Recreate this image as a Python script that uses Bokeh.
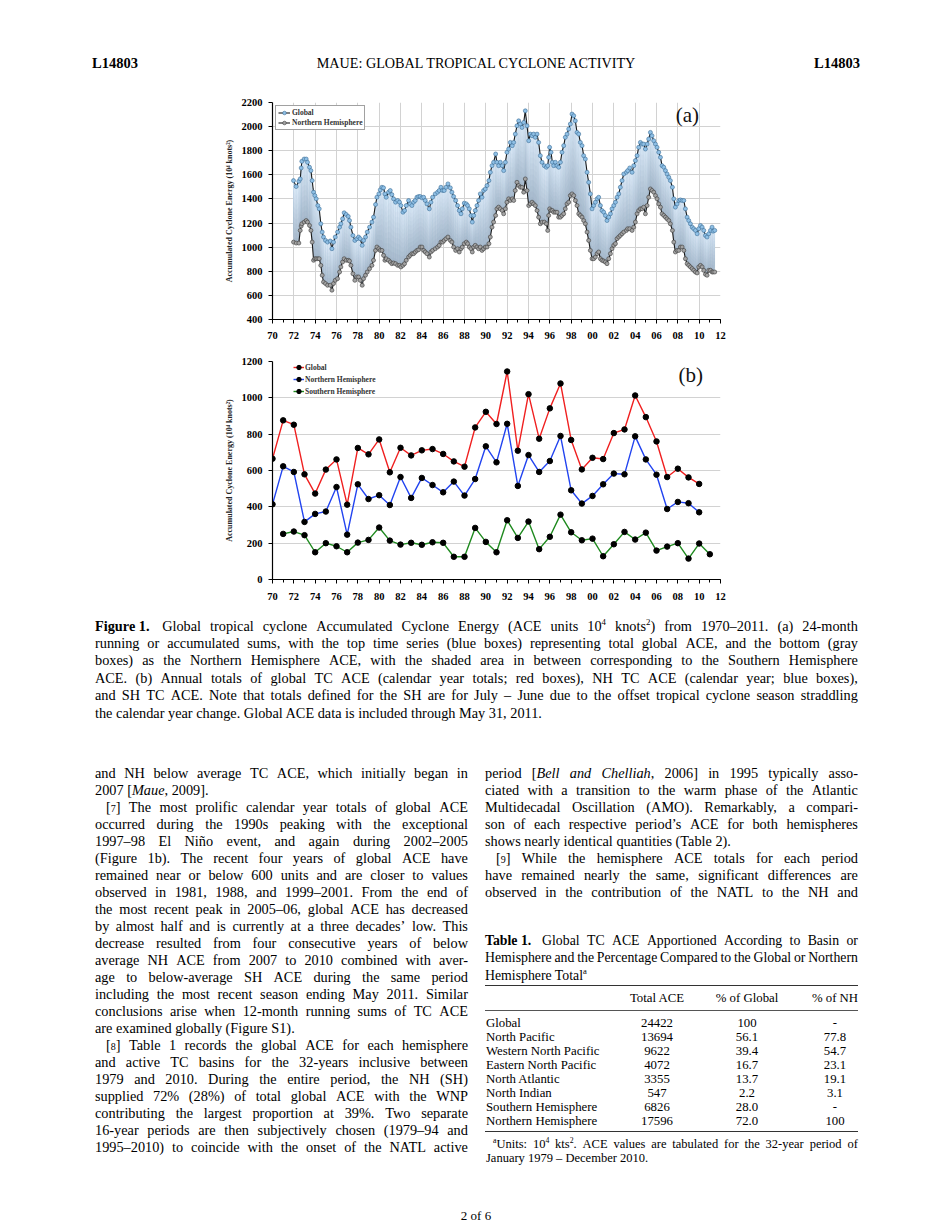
from bokeh.plotting import figure
from bokeh.models import Range1d, FixedTicker, Div, Legend, LegendItem, Label
from bokeh.layouts import column
from bokeh.embed import file_html
from bokeh.resources import INLINE
import numpy as np

# ---------------- data: (a) 24-month running sums ----------------
years_a = [1971.97,1972.22,1972.47,1972.60,1972.69,1972.75,1972.97,1973.16,1973.28,1973.47,
 1973.60,1973.72,1973.85,1973.97,1974.10,1974.25,1974.38,1974.53,1974.66,1974.78,
 1974.97,1975.16,1975.41,1975.57,1975.72,1975.88,1976.10,1976.29,1976.41,1976.57,
 1976.72,1976.91,1977.10,1977.22,1977.35,1977.54,1977.72,1977.91,1978.07,1978.22,
 1978.41,1978.54,1978.72,1978.88,1979.10,1979.32,1979.47,1979.66,1979.79,1979.97,
 1980.10,1980.26,1980.41,1980.54,1980.66,1980.88,1981.04,1981.19,1981.35,1981.54,
 1981.73,1981.91,1982.04,1982.23,1982.38,1982.54,1982.76,1982.91,1983.07,1983.23,
 1983.38,1983.54,1983.70,1983.85,1984.01,1984.17,1984.32,1984.48,1984.70,1984.85,
 1985.01,1985.26,1985.48,1985.63,1985.79,1985.95,1986.10,1986.26,1986.45,1986.67,
 1986.82,1986.98,1987.17,1987.35,1987.51,1987.67,1987.79,1987.98,1988.17,1988.29,
 1988.45,1988.61,1988.73,1988.86,1989.01,1989.17,1989.32,1989.48,1989.64,1989.79,
 1989.95,1990.11,1990.29,1990.42,1990.58,1990.73,1990.92,1991.04,1991.20,1991.36,
 1991.54,1991.67,1991.83,1991.98,1992.14,1992.30,1992.48,1992.61,1992.76,1992.92,
 1993.08,1993.23,1993.39,1993.55,1993.70,1993.86,1994.02,1994.17,1994.33,1994.48,
 1994.64,1994.80,1994.95,1995.11,1995.27,1995.48,1995.67,1995.80,1995.89,1995.98,
 1996.11,1996.24,1996.36,1996.52,1996.67,1996.83,1996.99,1997.14,1997.30,1997.45,
 1997.61,1997.77,1997.92,1998.08,1998.24,1998.39,1998.55,1998.71,1998.86,1999.02,
 1999.17,1999.33,1999.49,1999.64,1999.80,1999.96,2000.11,2000.27,2000.43,2000.58,
 2000.74,2000.89,2001.05,2001.21,2001.36,2001.52,2001.68,2001.83,2001.99,2002.15,
 2002.30,2002.46,2002.61,2002.77,2002.93,2003.18,2003.30,2003.49,2003.71,2003.87,
 2004.02,2004.18,2004.33,2004.49,2004.65,2004.80,2004.96,2005.12,2005.27,2005.43,
 2005.58,2005.74,2005.90,2006.05,2006.21,2006.37,2006.52,2006.68,2006.84,2006.99,
 2007.15,2007.30,2007.49,2007.62,2007.77,2007.93,2008.09,2008.24,2008.40,2008.56,
 2008.71,2008.87,2009.02,2009.18,2009.34,2009.49,2009.65,2009.81,2009.96,2010.12,
 2010.28,2010.43,2010.59,2010.74,2010.90,2011.06,2011.21,2011.31,2011.46]

global_a = [1552,1503,1547,1566,1657,1712,1731,1731,1704,1663,
 1635,1552,1456,1428,1401,1345,1318,1194,1125,1084,
 1056,1042,1051,987,1042,1084,1125,1166,1194,1235,
 1285,1271,1255,1221,1166,1097,1056,1070,1084,1070,
 1015,1056,1084,1125,1166,1208,1249,1354,1414,1442,
 1475,1497,1492,1442,1414,1456,1470,1436,1401,1373,
 1387,1373,1345,1290,1304,1345,1387,1359,1345,1373,
 1387,1414,1420,1420,1409,1414,1387,1359,1318,1373,
 1414,1442,1456,1470,1497,1470,1470,1497,1525,1492,
 1456,1420,1387,1345,1304,1277,1318,1365,1359,1345,
 1318,1263,1208,1263,1304,1345,1387,1442,1414,1470,
 1483,1511,1552,1621,1676,1704,1773,1704,1676,1704,
 1676,1635,1704,1787,1814,1869,1842,1869,1938,2007,
 2048,2021,1993,2035,2131,2007,1883,1938,1924,1938,
 1911,1938,1869,1759,1704,1676,1663,1676,1745,1828,
 1787,1704,1676,1704,1676,1663,1704,1787,1842,1911,
 1938,1980,2021,2104,2090,2048,1952,1938,1869,1842,
 1759,1731,1621,1538,1442,1318,1345,1373,1401,1414,
 1345,1304,1290,1263,1221,1249,1277,1318,1345,1373,
 1414,1442,1497,1552,1607,1621,1635,1657,1621,1676,
 1718,1759,1828,1869,1855,1855,1814,1855,1897,1952,
 1924,1883,1855,1828,1787,1745,1676,1663,1635,1607,
 1580,1552,1497,1401,1332,1359,1387,1392,1387,1387,
 1318,1249,1221,1194,1166,1153,1139,1111,1153,1180,
 1166,1139,1097,1084,1111,1139,1166,1133,1139]

nh_a = [1042,1034,1034,1139,1175,1194,1208,1221,1208,1180,
 1139,1042,891,904,904,904,904,849,767,711,
 698,684,684,643,698,725,739,794,836,877,
 904,891,891,885,849,780,725,753,753,725,
 684,739,767,794,822,849,891,973,1001,987,
 973,973,932,891,904,891,877,863,869,863,
 849,849,836,849,863,891,918,932,946,946,
 960,973,979,1001,1001,973,960,946,918,960,
 973,987,1001,1015,1042,1042,1056,1070,1084,1056,
 1042,1001,973,987,960,987,1001,1029,1042,1029,
 1001,987,960,1001,1015,1001,987,1001,973,987,
 1001,1001,1029,1084,1166,1208,1263,1318,1332,1318,
 1304,1277,1318,1373,1401,1387,1401,1387,1470,1538,
 1511,1497,1497,1456,1566,1470,1345,1359,1373,1359,
 1345,1304,1249,1194,1208,1208,1194,1139,1263,1318,
 1304,1304,1290,1290,1290,1249,1249,1263,1277,1318,
 1359,1373,1428,1442,1428,1387,1345,1277,1263,1249,
 1221,1194,1125,1056,973,904,904,918,946,960,
 904,891,885,877,863,904,946,987,1015,1029,
 1070,1084,1097,1111,1125,1139,1153,1153,1139,1166,
 1208,1277,1304,1318,1318,1332,1277,1345,1414,1483,
 1470,1456,1428,1401,1359,1332,1277,1263,1249,1235,
 1221,1194,1139,1042,960,973,973,1001,1001,973,
 904,863,849,836,822,808,794,786,836,849,
 836,808,775,767,808,808,794,794,794]

# ---------------- data: (b) annual totals ----------------
years_b = list(range(1970, 2011))
global_b = [665,876,852,579,473,605,661,412,724,689,771,590,725,683,711,718,691,650,621,837,
            923,856,1145,709,1020,775,942,1079,768,606,670,663,806,826,1013,894,760,564,610,562,526]
nh_b = [414,623,592,317,361,374,509,247,524,443,464,410,564,449,559,520,480,539,462,553,
        733,645,857,515,685,592,652,790,491,418,460,524,583,579,788,661,577,388,427,420,370]
years_sh = list(range(1971, 2012))
sh_b = [251,264,244,150,200,183,150,203,218,286,214,192,202,191,205,202,125,125,284,207,
        150,326,229,319,167,235,357,260,216,225,128,194,262,220,258,159,181,200,115,198,139]

x_ticks = list(range(1970, 2013, 2))
x_minor = list(range(1970, 2013))
x_labels = {t: "%02d" % (t % 100) for t in x_ticks}
ya_ticks = list(range(400, 2201, 200))
yb_ticks = list(range(0, 1201, 200))
ytitle = "Accumulated Cyclone Energy (10\u2074 knots\u00b2)"

# table data
tab_rows = ["Global", "North Pacific", "Western North Pacific", "Eastern North Pacific",
            "North Atlantic", "North Indian", "Southern Hemisphere", "Northern Hemisphere"]
tab_total = ["24422", "13694", "9622", "4072", "3355", "547", "6826", "17596"]
tab_pglob = ["100", "56.1", "39.4", "16.7", "13.7", "2.2", "28.0", "72.0"]
tab_pnh = ["-", "77.8", "54.7", "23.1", "19.1", "3.1", "-", "100"]

SERIF = "Liberation Serif"
W = 948


def style_axes(p, yt):
    tk = FixedTicker(ticks=x_ticks, minor_ticks=x_minor)
    p.xaxis.ticker = tk
    p.xgrid.ticker = tk
    p.xaxis.major_label_overrides = x_labels
    yk = FixedTicker(ticks=yt)
    p.yaxis.ticker = yk
    p.ygrid.ticker = yk
    for ax in (p.xaxis, p.yaxis):
        ax.axis_line_color = "black"
        ax.axis_line_width = 1.2
        ax.major_tick_line_color = "black"
        ax.major_tick_in = 0
        ax.major_tick_out = 4
        ax.major_label_text_font = SERIF
        ax.major_label_text_font_style = "bold"
        ax.major_label_text_font_size = "10.5px"
        ax.major_label_text_color = "black"
    p.xaxis.minor_tick_line_color = "black"
    p.xaxis.minor_tick_in = 0
    p.xaxis.minor_tick_out = 3
    p.yaxis.minor_tick_line_color = None
    p.yaxis.major_label_standoff = 6
    p.yaxis.axis_label = ytitle
    p.yaxis.axis_label_text_font = SERIF
    p.yaxis.axis_label_text_font_size = "8px"
    p.yaxis.axis_label_text_font_style = "bold"
    p.yaxis.axis_label_text_color = "#222222"
    p.yaxis.axis_label_standoff = 5
    p.outline_line_color = None
    p.xgrid.grid_line_color = "#d2d2d2"
    p.ygrid.grid_line_color = "#d2d2d2"


# ---------------- figure (a) ----------------
pa = figure(width=W, height=249, x_range=Range1d(1970, 2012), y_range=Range1d(400, 2200),
            output_backend="svg", toolbar_location=None, margin=0,
            min_border_left=272, min_border_right=W - 720, min_border_top=6, min_border_bottom=26)
style_axes(pa, ya_ticks)
pa.xaxis.major_label_standoff = 8

n_a = min(len(years_a), len(global_a), len(nh_a))
xa = np.array(years_a[:n_a], dtype=float)
ga = np.array(global_a[:n_a], dtype=float)
na = np.array(nh_a[:n_a], dtype=float)

top_c = np.array([0xdf, 0xed, 0xfa])
bot_c = np.array([0xa6, 0xb8, 0xca])
NB = 12
for k in range(NB):
    f0 = k / NB
    c = bot_c + (top_c - bot_c) * (k + 0.5) / NB
    col = "#%02x%02x%02x" % tuple(int(v) for v in c)
    pa.varea(x=xa, y1=na + (ga - na) * f0, y2=ga, fill_color=col)
pa.segment(x0=xa, y0=na, x1=xa, y1=ga, line_color="#7f9fc0", line_alpha=0.22, line_width=0.6)

lg = pa.line(xa, ga, line_color="#1a1a1a", line_width=1.1)
sg = pa.scatter(xa, ga, marker="circle", size=4, fill_color="#8fc0e6", line_color="#3d6d96", line_width=0.6)
ln = pa.line(xa, na, line_color="#1a1a1a", line_width=1.1)
sn = pa.scatter(xa, na, marker="circle", size=4, fill_color="#a3a3a3", line_color="#3a3a3a", line_width=0.6)

leg_a = Legend(items=[LegendItem(label="Global", renderers=[lg, sg]),
                      LegendItem(label="Northern Hemisphere", renderers=[ln, sn])],
               location="top_left", margin=3, padding=2, spacing=1,
               label_height=9, glyph_height=9, glyph_width=12, label_standoff=2,
               label_text_font=SERIF, label_text_font_size="7.5px", label_text_font_style="bold",
               label_text_color="#333333", border_line_color="#444444", border_line_width=0.8,
               background_fill_color="white", background_fill_alpha=1.0)
pa.add_layout(leg_a)
pa.add_layout(Label(x=2008.9, y=2098, text="(a)", text_font=SERIF, text_font_size="21px",
                    text_align="center", text_baseline="middle", text_color="#111111"))

# ---------------- figure (b) ----------------
pb = figure(width=W, height=260, x_range=Range1d(1970, 2012), y_range=Range1d(0, 1200),
            output_backend="svg", toolbar_location=None, margin=0,
            min_border_left=272, min_border_right=W - 720, min_border_top=16, min_border_bottom=26)
style_axes(pb, yb_ticks)
pb.xgrid.grid_line_color = None
pb.xaxis.major_label_standoff = 9

r1 = pb.line(years_b, global_b, line_color="#f02020", line_width=1.4)
s1 = pb.scatter(years_b, global_b, size=5.5, fill_color="black", line_color="black")
r2 = pb.line(years_b, nh_b, line_color="#2244f0", line_width=1.4)
s2 = pb.scatter(years_b, nh_b, size=5.5, fill_color="black", line_color="black")
r3 = pb.line(years_sh, sh_b, line_color="#1f8a1f", line_width=1.4)
s3 = pb.scatter(years_sh, sh_b, size=5.5, fill_color="black", line_color="black")

leg_b = Legend(items=[LegendItem(label="Global", renderers=[r1, s1]),
                      LegendItem(label="Northern Hemisphere", renderers=[r2, s2]),
                      LegendItem(label="Southern Hemisphere", renderers=[r3, s3])],
               location=(21, 182), margin=0, padding=0, spacing=0,
               label_height=12, glyph_height=12, glyph_width=11, label_standoff=1,
               label_text_font=SERIF, label_text_font_size="7.5px", label_text_font_style="bold",
               label_text_color="#333333", border_line_color=None, background_fill_alpha=0.0)
pb.add_layout(leg_b)
pb.add_layout(Label(x=2009.2, y=1123, text="(b)", text_font=SERIF, text_font_size="21px",
                    text_align="center", text_baseline="middle", text_color="#111111"))


# ---------------- text blocks ----------------
def box(x, yc, w, fs, lh, extra):
    return ('position:absolute;left:%.1fpx;top:%.1fpx;width:%.1fpx;height:%dpx;line-height:%dpx;'
            'font-size:%.1fpx;white-space:nowrap;%s' % (x, yc - lh / 2.0, w, lh, lh, fs, extra))


def jline(x, yc, w, text, fs=14.3, lh=17):
    spans = "".join("<span>%s</span>" % t for t in text.split(" "))
    return '<div style="%s">%s</div>' % (box(x, yc, w, fs, lh, "display:flex;justify-content:space-between;"), spans)


def pline(x, yc, w, text, fs=14.3, lh=17, extra=""):
    return '<div style="%s">%s</div>' % (box(x, yc, w, fs, lh, extra), text)


CSS = ("<style>sup{font-size:0.62em;line-height:0;vertical-align:super;}"
       "small{font-size:10px;}</style>")

HEAD_H = 96
header = ('<div style="position:relative;width:%dpx;height:%dpx;font-family:\'Liberation Serif\',serif;color:#000;">' % (W, HEAD_H)
          + pline(92, 63, 120, "L14803", fs=14.5, lh=16, extra="font-weight:bold;")
          + pline(0, 63, 952, "MAUE: GLOBAL TROPICAL CYCLONE ACTIVITY", fs=14.2, lh=16, extra="text-align:center;")
          + pline(740, 63, 120, "L14803", fs=14.5, lh=16, extra="font-weight:bold;text-align:right;")
          + '</div>')

caption_lines = [
    ("<b>Figure&nbsp;1.</b>&nbsp; Global tropical cyclone Accumulated Cyclone Energy (ACE units 10<sup>4</sup> knots<sup>2</sup>) from 1970–2011. (a) 24-month", True),
    ("running or accumulated sums, with the top time series (blue boxes) representing total global ACE, and the bottom (gray", True),
    ("boxes) as the Northern Hemisphere ACE, with the shaded area in between corresponding to the Southern Hemisphere", True),
    ("ACE. (b) Annual totals of global TC ACE (calendar year totals; red boxes), NH TC ACE (calendar year; blue boxes),", True),
    ("and SH TC ACE. Note that totals defined for the SH are for July – June due to the offset tropical cyclone season straddling", True),
    ("the calendar year change. Global ACE data is included through May 31, 2011.", False),
]

left_lines = [
    ("and NH below average TC ACE, which initially began in", 0, True),
    ("2007 [<i>Maue</i>, 2009].", 0, False),
    ("[<small>7</small>] The most prolific calendar year totals of global ACE", 11, True),
    ("occurred during the 1990s peaking with the exceptional", 0, True),
    ("1997–98 El Niño event, and again during 2002–2005", 0, True),
    ("(Figure 1b). The recent four years of global ACE have", 0, True),
    ("remained near or below 600 units and are closer to values", 0, True),
    ("observed in 1981, 1988, and 1999–2001. From the end of", 0, True),
    ("the most recent peak in 2005–06, global ACE has decreased", 0, True),
    ("by almost half and is currently at a three decades’ low. This", 0, True),
    ("decrease resulted from four consecutive years of below", 0, True),
    ("average NH ACE from 2007 to 2010 combined with aver-", 0, True),
    ("age to below-average SH ACE during the same period", 0, True),
    ("including the most recent season ending May 2011. Similar", 0, True),
    ("conclusions arise when 12-month running sums of TC ACE", 0, True),
    ("are examined globally (Figure S1).", 0, False),
    ("[<small>8</small>] Table 1 records the global ACE for each hemisphere", 11, True),
    ("and active TC basins for the 32-years inclusive between", 0, True),
    ("1979 and 2010. During the entire period, the NH (SH)", 0, True),
    ("supplied 72% (28%) of total global ACE with the WNP", 0, True),
    ("contributing the largest proportion at 39%. Two separate", 0, True),
    ("16-year periods are then subjectively chosen (1979–94 and", 0, True),
    ("1995–2010) to coincide with the onset of the NATL active", 0, True),
]

right_lines = [
    ("period [<i>Bell</i> <i>and</i> <i>Chelliah</i>, 2006] in 1995 typically asso-", 0, True),
    ("ciated with a transition to the warm phase of the Atlantic", 0, True),
    ("Multidecadal Oscillation (AMO). Remarkably, a compari-", 0, True),
    ("son of each respective period’s ACE for both hemispheres", 0, True),
    ("shows nearly identical quantities (Table 2).", 0, False),
    ("[<small>9</small>] While the hemisphere ACE totals for each period", 11, True),
    ("have remained nearly the same, significant differences are", 0, True),
    ("observed in the contribution of the NATL to the NH and", 0, True),
]

BOT0 = 605          # window y of the top of the lower text block
BOT_H = 1228 - BOT0


def wy(y):
    return y - BOT0


parts = ['<div style="position:relative;width:%dpx;height:%dpx;font-family:\'Liberation Serif\',serif;color:#000;">' % (W, BOT_H), CSS]
for i, (h, j) in enumerate(caption_lines):
    f = jline if j else pline
    parts.append(f(95, wy(626 + 17.4 * i), 763, h))
for i, (h, ind, j) in enumerate(left_lines):
    f = jline if j else pline
    parts.append(f(95 + ind, wy(773 + 17 * i), 373 - ind, h))
for i, (h, ind, j) in enumerate(right_lines):
    f = jline if j else pline
    parts.append(f(485 + ind, wy(773 + 17 * i), 373 - ind, h))

# table
TL = 485
parts.append(jline(TL, wy(940), 373, "<b>Table&nbsp;1.</b>&nbsp; Global TC ACE Apportioned According to Basin or", fs=13.8))
parts.append(jline(TL, wy(957.5), 373, "Hemisphere and the Percentage Compared to the Global or Northern", fs=13.8))
parts.append(pline(TL, wy(975), 373, "Hemisphere Total<sup>a</sup>", fs=13.8))
parts.append('<div style="position:absolute;left:%.1fpx;top:%.1fpx;width:373px;height:0;border-top:1.3px solid #333;"></div>' % (TL, wy(986) - 0.6))
parts.append(pline(657 - 45, wy(998.3), 90, "Total ACE", fs=12.8, lh=14, extra="text-align:center;"))
parts.append(pline(747 - 50, wy(998.3), 100, "% of Global", fs=12.8, lh=14, extra="text-align:center;"))
parts.append(pline(835 - 40, wy(998.3), 80, "% of NH", fs=12.8, lh=14, extra="text-align:center;"))
parts.append('<div style="position:absolute;left:%.1fpx;top:%.1fpx;width:373px;height:0;border-top:0.8px solid #555;"></div>' % (TL, wy(1010) - 0.4))
for i in range(len(tab_rows)):
    yc = wy(1022.7 + 14 * i)
    parts.append(pline(486, yc, 170, tab_rows[i], fs=12.8, lh=14))
    parts.append(pline(657 - 40, yc, 80, tab_total[i], fs=12.8, lh=14, extra="text-align:center;"))
    parts.append(pline(747 - 40, yc, 80, tab_pglob[i], fs=12.8, lh=14, extra="text-align:center;"))
    parts.append(pline(835 - 40, yc, 80, tab_pnh[i], fs=12.8, lh=14, extra="text-align:center;"))
parts.append('<div style="position:absolute;left:%.1fpx;top:%.1fpx;width:373px;height:0;border-top:1.3px solid #333;"></div>' % (TL, wy(1131.7) - 0.6))
parts.append(jline(493, wy(1144.3), 365, "<sup>a</sup>Units: 10<sup>4</sup> kts<sup>2</sup>. ACE values are tabulated for the 32-year period of", fs=12.5, lh=14))
parts.append(pline(486, wy(1157.7), 373, "January 1979 – December 2010.", fs=12.5, lh=14))
parts.append(pline(0, wy(1216), 952, "2 of 6", fs=13, lh=16, extra="text-align:center;"))
parts.append('</div>')

div_top = Div(text=header, width=W, height=HEAD_H, margin=0)
div_bot = Div(text="".join(parts), width=W, height=BOT_H, margin=0)

page = column(div_top, pa, pb, div_bot, spacing=0)
open("out.html", "w").write(file_html(page, INLINE))
